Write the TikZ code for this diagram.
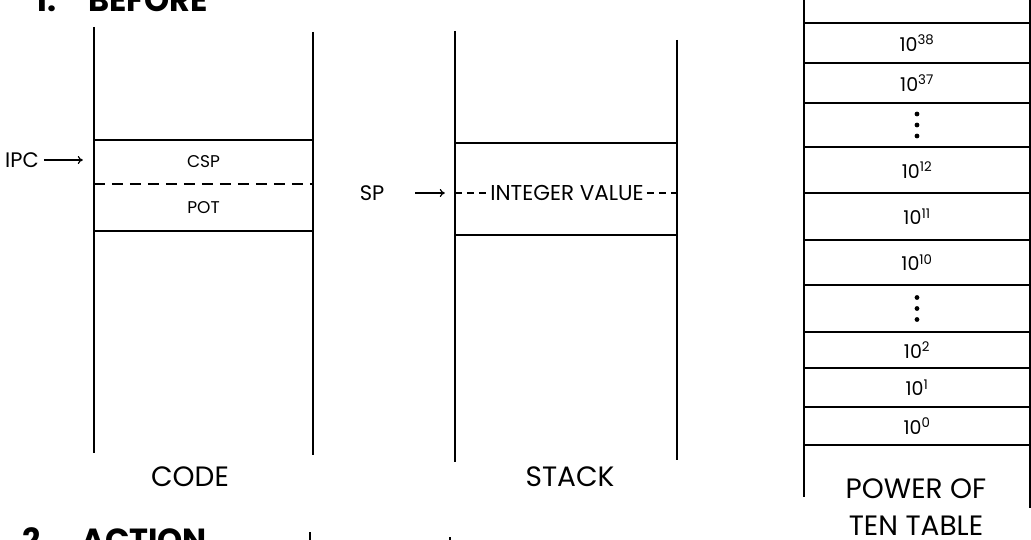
\documentclass[tikz,border=0pt]{standalone}
\usepackage{fontspec}
\setmainfont{Poppins}
\usetikzlibrary{arrows.meta,positioning}

\begin{document}
\begin{tikzpicture}[
  x=1pt,y=-1pt,
  wall/.style={line width=1.5pt},
  divline/.style={line width=1.5pt,dash pattern=on 11pt off 7pt},
  rowbox/.style={inner sep=0pt,font=\fontsize{17}{19}\selectfont},
  powrow/.style={rowbox,minimum width=226pt,font=\fontsize{19}{21}\selectfont},
  tag/.style={inner sep=1pt,font=\fontsize{21}{24}\selectfont},
  caption/.style={font=\fontsize{28}{37}\selectfont,align=center},
  heading/.style={anchor=base west,inner sep=0pt,font=\fontsize{32}{34}\selectfont\bfseries},
  ptr/.style={-{To[length=5pt,width=8pt]},line width=1.2pt}
]
\useasboundingbox (0,0) rectangle (1031,540);

% titles
\node[heading] (before) at (35,12) {1.\quad BEFORE};
\node[heading] (action) at (22,551) {2.\quad ACTION};

% code segment
\draw[wall] (94,27) -- (94,453);
\draw[wall] (313,32) -- (313,455);
\node[rowbox,minimum width=219pt,minimum height=44pt] (csp) at (203.5,162) {CSP};
\node[rowbox,minimum width=219pt,minimum height=47pt] (pot) at (203.5,207.5) {POT};
\draw[wall] (csp.north west) -- (csp.north east);
\draw[divline] (csp.south west) -- (csp.south east);
\draw[wall] (pot.south west) -- (pot.south east);
\node[tag] (ipc) at (22,160) {IPC};
\draw[ptr,shorten <=4pt,shorten >=11pt] (ipc.east) -- (ipc.east -| csp.west);
\node[caption] (code) at (190,477) {CODE};

% stack
\draw[wall] (455,31) -- (455,462);
\draw[wall] (677,40) -- (677,460);
\node[rowbox,minimum width=222pt,minimum height=92pt] (stk) at (566,189) {};
\draw[wall] (stk.north west) -- (stk.north east);
\draw[wall] (stk.south west) -- (stk.south east);
\node[rowbox,font=\fontsize{21.5}{23}\selectfont] (intval) at (567,193) {INTEGER VALUE};
\draw[divline,dash pattern=on 7pt off 5pt] (stk.west |- intval) -- ([xshift=-3pt]intval.west);
\draw[divline,dash pattern=on 7pt off 5pt] ([xshift=3pt]intval.east) -- (stk.east |- intval);
\node[tag] (sp) at (372,193) {SP};
\draw[ptr,shorten <=30pt,shorten >=10pt] (sp.east) -- (sp.east -| stk.west);
\node[caption] (stack) at (570,477) {STACK};

% power of ten table
\draw[wall] (804,0) -- (804,497);
\draw[wall] (1030,0) -- (1030,508);
\draw[wall] (804,23) -- (1031,23);
\foreach \txt/\ya/\yb [count=\i] in {10\textsuperscript{38}/23/63, 10\textsuperscript{37}/63/103, /103/147,
    10\textsuperscript{12}/147/193, 10\textsuperscript{11}/193/240, 10\textsuperscript{10}/240/285, /285/332,
    10\textsuperscript{2}/332/368, 10\textsuperscript{1}/368/407, 10\textsuperscript{0}/407/445}{
  \node[powrow,minimum height={(\yb-\ya)*1pt}] (row\i) at (917,{(\ya+\yb)/2}) {\txt};
  \draw[wall] (row\i.south west) -- (row\i.south east);
}
\foreach \r in {3,7}
  \foreach \k in {-11,0,11}
    \fill ([yshift=\k pt]row\r.center) circle (2.4pt);
\node[caption] (table) at (916,507) {POWER OF\\TEN TABLE};

% next section
\draw[wall] (310,532) -- (310,545);
\draw[wall] (450,537) -- (450,545);
\end{tikzpicture}
\end{document}
